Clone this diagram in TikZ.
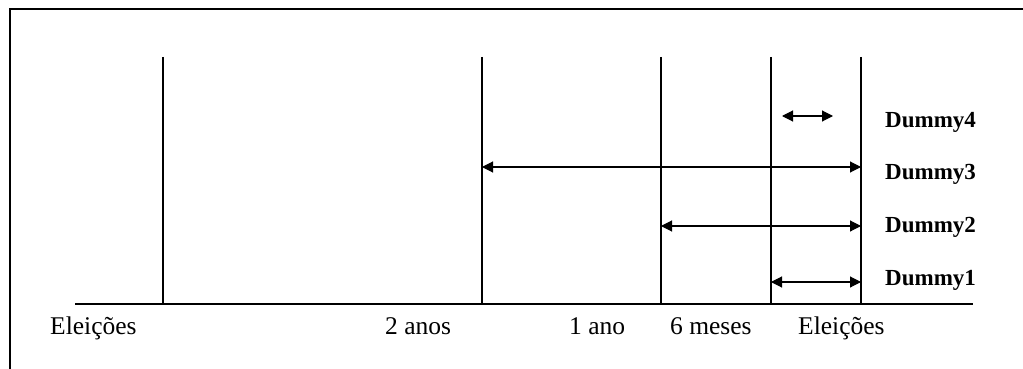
\documentclass[tikz,border=0pt]{standalone}
\usepackage{fontspec}
\setmainfont{Liberation Serif}
\usetikzlibrary{arrows.meta}
\begin{document}
\begin{tikzpicture}[x=1pt,y=-1pt,
  ln/.style={line width=1.3pt,black},
  tick/.style={line width=1.3pt,black},
  dbl/.style={line width=1.1pt,{Triangle[length=11pt,width=11pt]}-{Triangle[length=11pt,width=11pt]}},
  lbl/.style={anchor=base west,inner sep=0pt,font=\fontsize{25.5}{28}\selectfont},
  dlbl/.style={anchor=base west,inner sep=0pt,font=\fontsize{23}{26}\selectfont\bfseries}]
\useasboundingbox (0,0) rectangle (1023,369);
% frame
\draw[line width=1.5pt] (10,380) -- (10,9) -- (1035,9);
% axis
\coordinate (a0) at (75,304);
\coordinate (a1) at (973,304);
\draw[ln] (a0) -- (a1);
% vertical lines
\foreach \n/\x in {v1/163,v2/482,v3/661,v4/771,v5/861}{
  \coordinate (\n t) at (\x,57);
  \coordinate (\n b) at (\x,304);
  \draw[tick] (\n t) -- (\n b);
}
% arrows
\coordinate (d4a) at (782,116);
\coordinate (d4b) at (833,116);
\draw[dbl] (d4a) -- (d4b);
\coordinate (d3a) at (482,167);
\coordinate (d3b) at (861,167);
\draw[dbl] (d3a) -- (d3b);
\coordinate (d2a) at (661,226);
\coordinate (d2b) at (861,226);
\draw[dbl] (d2a) -- (d2b);
\coordinate (d1a) at (771,282);
\coordinate (d1b) at (861,282);
\draw[dbl] (d1a) -- (d1b);
% labels
\node[dlbl] (l4) at (885,127) {Dummy4};
\node[dlbl] (l3) at (885,179) {Dummy3};
\node[dlbl] (l2) at (885,232) {Dummy2};
\node[dlbl] (l1) at (885,285) {Dummy1};
\node[lbl] (e1) at (50,334) {Eleições};
\node[lbl] (t2) at (385,334) {2 anos};
\node[lbl] (t1) at (569,334) {1 ano};
\node[lbl] (t6) at (670,334) {6 meses};
\node[lbl] (e2) at (798,334) {Eleições};
\end{tikzpicture}
\end{document}
